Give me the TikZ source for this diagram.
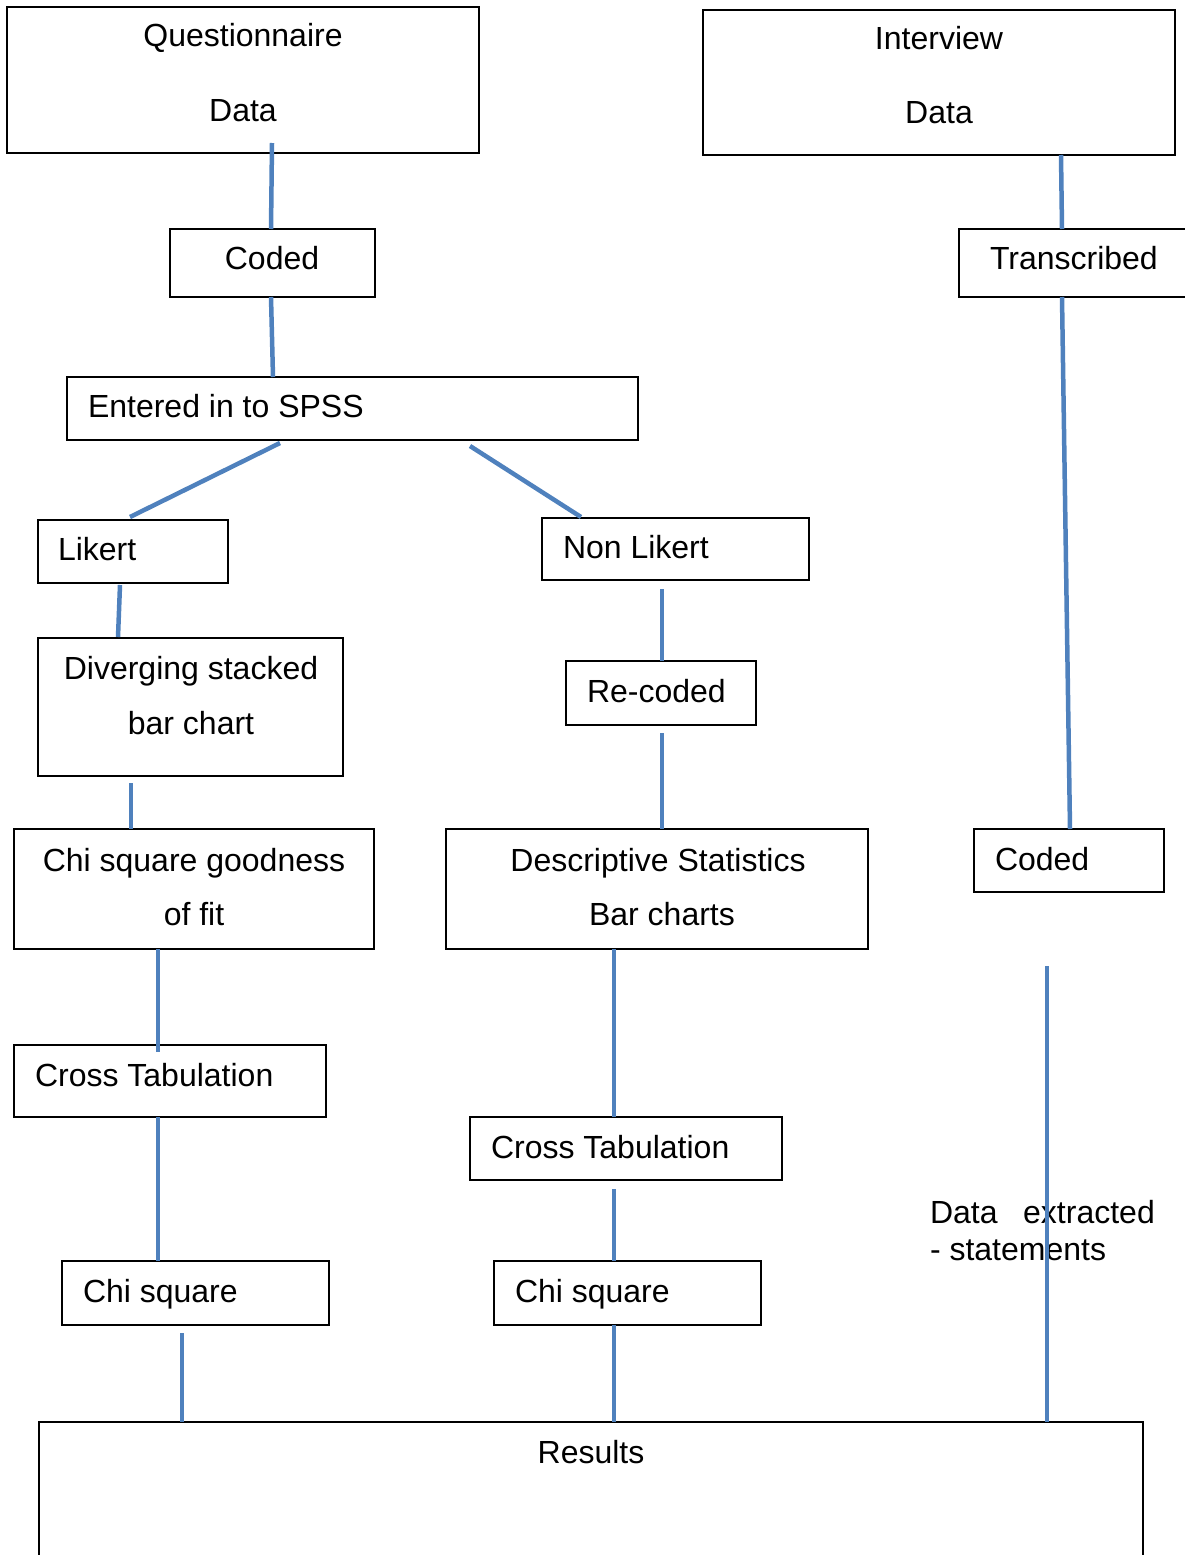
\documentclass[tikz,border=0pt]{standalone}
\usepackage{fontspec}
\setmainfont{Liberation Sans}
\usetikzlibrary{calc}
\definecolor{conncol}{RGB}{79,129,189}
\begin{document}
\begin{tikzpicture}[x=1pt,y=-1pt,
  box/.style={draw=black,line width=1.2pt,fill=white,inner sep=0pt,outer sep=0pt},
  txt/.style={inner sep=0pt,outer sep=0pt,font=\fontsize{32}{37}\selectfont},
  conn/.style={draw=conncol,line width=4.5pt}]
\useasboundingbox (0,0) rectangle (1185,1555);
\clip (0,0) rectangle (1185,1555);
% boxes
\node[box,minimum width=472pt,minimum height=146pt] (qd) at (243,80) {};
\node[box,minimum width=472pt,minimum height=145pt] (id) at (939,82.5) {};
\node[box,minimum width=205pt,minimum height=68pt] (cod1) at (272.5,263) {};
\node[box,minimum width=236pt,minimum height=68pt] (tr) at (1077,263) {};
\node[box,minimum width=571pt,minimum height=63pt] (ent) at (352.5,408.5) {};
\node[box,minimum width=190pt,minimum height=63pt] (lik) at (133,551.5) {};
\node[box,minimum width=267pt,minimum height=62pt] (nlik) at (675.5,549) {};
\node[box,minimum width=305pt,minimum height=138pt] (div) at (190.5,707) {};
\node[box,minimum width=190pt,minimum height=64pt] (rec) at (661,693) {};
\node[box,minimum width=360pt,minimum height=120pt] (gof) at (194,889) {};
\node[box,minimum width=422pt,minimum height=120pt] (desc) at (657,889) {};
\node[box,minimum width=190pt,minimum height=63pt] (cod2) at (1069,860.5) {};
\node[box,minimum width=312pt,minimum height=72pt] (ct1) at (170,1081) {};
\node[box,minimum width=312pt,minimum height=63pt] (ct2) at (626,1148.5) {};
\node[box,minimum width=267pt,minimum height=64pt] (cs1) at (195.5,1293) {};
\node[box,minimum width=267pt,minimum height=64pt] (cs2) at (627.5,1293) {};
\node[box,minimum width=1104pt,minimum height=178pt] (res) at (591,1511) {};
% texts
\node[txt,anchor=base] (t1) at (243,47) {Questionnaire};
\node[txt,anchor=base] (t2) at (243,121) {Data};
\node[txt,anchor=base] (t3) at (939,49) {Interview};
\node[txt,anchor=base] (t4) at (939,123) {Data};
\node[txt,anchor=base] (t5) at (272,269) {Coded};
\node[txt,anchor=base west] (t6) at (990,269) {Transcribed};
\node[txt,anchor=base west] (t7) at (88,417) {Entered in to SPSS};
\node[txt,anchor=base west] (t8) at (58,560) {Likert};
\node[txt,anchor=base west] (t9) at (563,558) {Non Likert};
\node[txt,anchor=base] (t10) at (191,679) {Diverging stacked};
\node[txt,anchor=base] (t11) at (191,734) {bar chart};
\node[txt,anchor=base west] (t12) at (587,702) {Re-coded};
\node[txt,anchor=base] (t13) at (194,871) {Chi square goodness};
\node[txt,anchor=base] (t14) at (194,925) {of fit};
\node[txt,anchor=base] (t15) at (658,871) {Descriptive Statistics};
\node[txt,anchor=base] (t16) at (662,925) {Bar charts};
\node[txt,anchor=base west] (t17) at (995,870) {Coded};
\node[txt,anchor=base west] (t18) at (35,1086) {Cross Tabulation};
\node[txt,anchor=base west] (t19) at (491,1158) {Cross Tabulation};
\node[txt,anchor=base west] (t20) at (83,1302) {Chi square};
\node[txt,anchor=base west] (t21) at (515,1302) {Chi square};
\node[txt,anchor=base] (t22) at (591,1463) {Results};
\node[txt,anchor=base west] (t23) at (930,1223) {Data\hspace{0.8em}extracted};
\node[txt,anchor=base west] (t24) at (930,1260) {- statements};
% connectors
\draw[conn] ($(qd.south)+(29,-10)$) -- ($(cod1.north)+(-1.5,0)$);
\draw[conn] ($(cod1.south)+(-1.5,0)$) -- ($(ent.north)+(-79.5,0)$);
\draw[conn] ($(ent.south)+(-72.5,3)$) -- ($(lik.north)+(-3,-3)$);
\draw[conn] ($(ent.south)+(117.5,6)$) -- ($(nlik.north)+(-94.5,-1)$);
\draw[conn] ($(id.south)+(122,0)$) -- ($(tr.north)+(-15,0)$);
\draw[conn] ($(tr.south)+(-15,0)$) -- ($(cod2.north)+(1,0)$);
\draw[conn] ($(lik.south)+(-13,2)$) -- ($(div.north)+(-72.5,-1)$);
\draw[conn] ($(nlik.south)+(-13.5,9)$) -- ($(rec.north)+(1,0)$);
\draw[conn] ($(div.south)+(-59.5,7)$) -- ($(gof.north)+(-63,0)$);
\draw[conn] ($(rec.south)+(1,8)$) -- ($(desc.north)+(5,0)$);
\draw[conn] ($(gof.south)+(-36,0)$) -- ($(ct1.north)+(-12,7)$);
\draw[conn] ($(desc.south)+(-43,0)$) -- ($(ct2.north)+(-12,0)$);
\draw[conn] ($(ct1.south)+(-12,0)$) -- ($(cs1.north)+(-37.5,0)$);
\draw[conn] ($(ct2.south)+(-12,9)$) -- ($(cs2.north)+(-13.5,0)$);
\draw[conn] ($(cs1.south)+(-13.5,8)$) -- ($(res.north)+(-409,0)$);
\draw[conn] ($(cs2.south)+(-13.5,0)$) -- ($(res.north)+(23,0)$);
\draw[conn] ($(cod2.south)+(-22,74)$) -- ($(res.north)+(456,0)$);
\end{tikzpicture}
\end{document}
